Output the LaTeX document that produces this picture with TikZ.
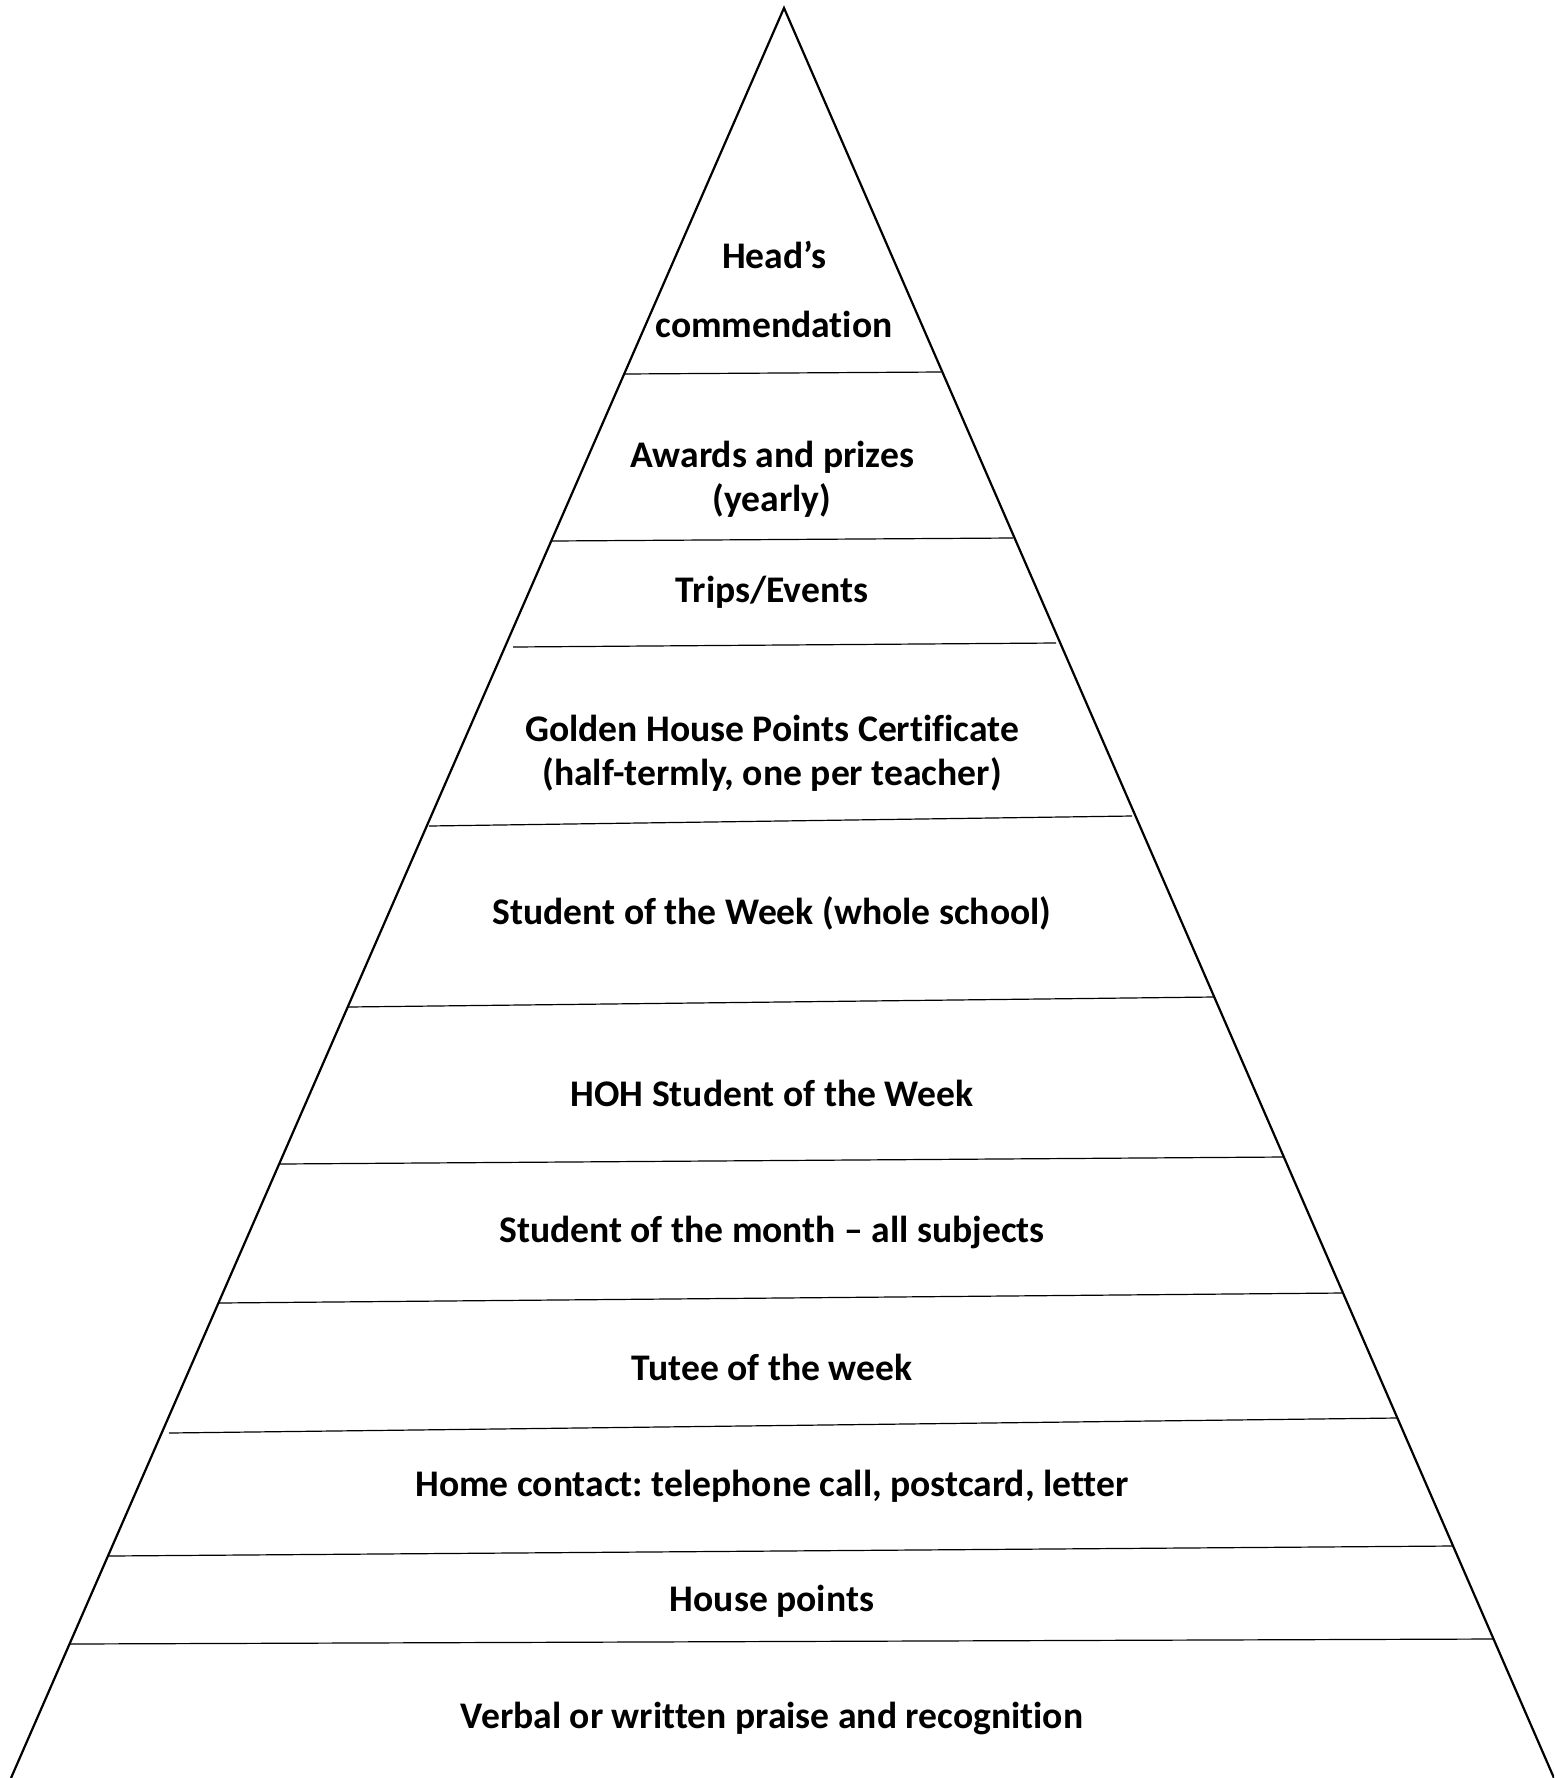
\documentclass[tikz,border=0pt]{standalone}
\usepackage{fontspec}
\setmainfont{Carlito}[Ligatures={NoCommon}]
\usetikzlibrary{positioning}

\begin{document}
\frenchspacing
\begin{tikzpicture}[
    x=0.5pt, y=-0.5pt,
    side/.style={draw, line width=1.1pt, line join=miter},
    divider/.style={draw, line width=0.6pt},
    tier/.style={font=\fontsize{18.8}{22}\selectfont\bfseries, align=center, inner sep=0pt}
]
    \useasboundingbox (0,0) rectangle (1554,1778);
    \clip (0,0) rectangle (1554,1778);

    % Pyramid outline
    \coordinate (apex) at (784,8);
    \coordinate (baseL) at (11,1778);
    \coordinate (baseR) at (1554,1778);
    \draw[side] (baseL) -- (apex) -- (baseR);

    % Tier dividers
    \foreach \xa/\ya/\xb/\yb in {624/374/941/372, 552/541/1013/538, 513/647/1056/643,
        429/826/1132/816, 348/1007/1214/997, 280/1164/1284/1157, 219/1303/1343/1293,
        169/1433/1397/1418, 109/1556/1453/1546, 70/1644/1494/1639}
        \draw[divider] (\xa,\ya) -- (\xb,\yb);

    % Labels
    \node[tier] (heads)   at (774,289)  {Head’s\\[12.5pt]commendation};
    \node[tier] (awards)  at (772,479)  {Awards and prizes\\(yearly)};
    \node[tier] (trips)   at (772,592)  {Trips/Events};
    \node[tier] (golden)  at (772,753)  {Golden House Points Certificate\\(half-termly, one per teacher)};
    \node[tier] (sotw)    at (772,913)  {Student of the Week (whole school)};
    \node[tier] (hoh)     at (772,1093) {HOH Student of the Week};
    \node[tier] (month)   at (772,1232) {Student of the month – all subjects};
    \node[tier] (tutee)   at (772,1367) {Tutee of the week};
    \node[tier] (home)    at (772,1486) {Home contact: telephone call, postcard, letter};
    \node[tier] (house)   at (772,1601) {House points};
    \node[tier] (verbal)  at (772,1718) {Verbal or written praise and recognition};
\end{tikzpicture}
\end{document}
